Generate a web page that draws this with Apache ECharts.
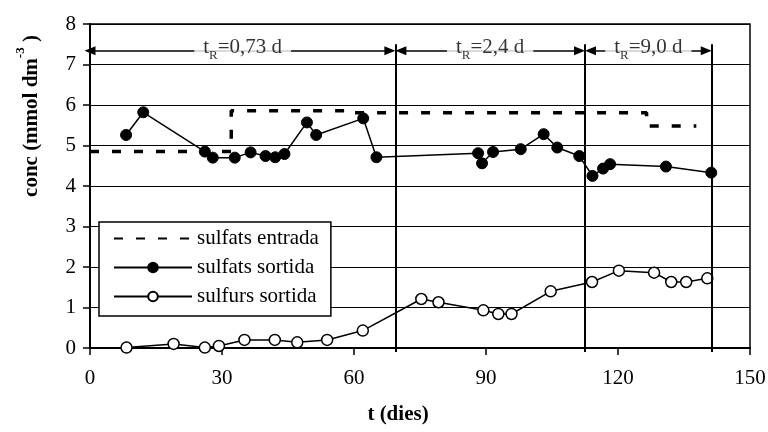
<!DOCTYPE html>
<html>
<head>
<meta charset="utf-8">
<script src="https://cdn.jsdelivr.net/npm/echarts@6.0.0/dist/echarts.min.js"></script>
<style>
  html, body { margin: 0; padding: 0; background: #fff; }
  #chart { width: 768px; height: 432px; }
</style>
</head>
<body>
<div id="chart"></div>
<script>
// Inlet sulphate (step profile of the feed), days / mmol dm-3
const entradaT = [0, 32.1, 32.1, 58.0, 58.0, 126.5, 126.5, 137.8];
const entradaC = [4.85, 4.85, 5.86, 5.86, 5.81, 5.81, 5.48, 5.48];

// Outlet sulphate
const sulfatsT = [8.2, 12.1, 26.1, 27.9, 32.9, 36.5, 39.9, 42.1, 44.2, 49.3, 51.4, 62.1, 65.1,
                  88.2, 89.1, 91.6, 97.9, 103.1, 106.2, 111.2, 114.2, 116.6, 118.2, 130.9, 141.2];
const sulfatsC = [5.26, 5.82, 4.85, 4.70, 4.70, 4.83, 4.74, 4.71, 4.79, 5.57, 5.26, 5.67, 4.71,
                  4.81, 4.56, 4.84, 4.91, 5.28, 4.95, 4.74, 4.25, 4.43, 4.54, 4.48, 4.33];

// Outlet sulphide
const sulfursT = [8.3, 19.0, 26.1, 29.3, 35.1, 42.0, 47.1, 53.9, 62.0, 75.3, 79.2,
                  89.4, 92.8, 95.8, 104.7, 114.1, 120.2, 128.2, 132.1, 135.5, 140.3];
const sulfursC = [0.01, 0.10, 0.01, 0.05, 0.20, 0.20, 0.14, 0.20, 0.43, 1.21, 1.13,
                  0.93, 0.84, 0.84, 1.40, 1.63, 1.91, 1.86, 1.63, 1.63, 1.72];

// Hydraulic residence time periods
const periodBounds = [0, 69.4, 112.5, 141.3];
const periodLabels = ['0,73', '2,4', '9,0'];

const xTicks = { min: 0, max: 150, step: 30 };
const yTicks = { min: 0, max: 8, step: 1 };

const SERIF = 'Liberation Serif';
const ARROW_Y = 7.34;
const BOUND_TOP = 7.5;
const ARROW_HALF = 1.25;   // half of arrowhead length, in days

const pairs = (xs, ys) => xs.map((x, i) => [x, ys[i]]);

const markLines = [];
periodBounds.slice(1).forEach(b => {
  markLines.push([
    { coord: [b, BOUND_TOP], symbol: 'none', lineStyle: { width: 2, color: '#000', type: 'solid' } },
    { coord: [b, 0], symbol: 'none' }
  ]);
});
for (let i = 0; i < periodLabels.length; i++) {
  const a = i === 0 ? periodBounds[0] : periodBounds[i] + ARROW_HALF;
  const b = periodBounds[i + 1] - ARROW_HALF;
  markLines.push([
    { coord: [a, ARROW_Y], symbol: 'triangle', symbolSize: [9, 11] },
    { coord: [b, ARROW_Y], symbol: 'triangle', symbolSize: [9, 11] }
  ]);
}

const periodText = periodLabels.map((t, i) => ({
  value: [(periodBounds[i] + periodBounds[i + 1]) / 2, ARROW_Y],
  name: t
}));

const chart = echarts.init(document.getElementById('chart'), null, { renderer: 'canvas' });

const axisBase = {
  type: 'value',
  axisLine: { show: true, lineStyle: { color: '#000', width: 2 } },
  axisTick: { show: true, inside: false, length: 7, lineStyle: { color: '#000', width: 1.5 } },
  axisLabel: { color: '#000', fontFamily: SERIF, fontSize: 21 }
};

chart.setOption({
  animation: false,
  backgroundColor: '#fff',
  textStyle: { fontFamily: SERIF },
  grid: {
    left: 90, top: 24, width: 660, height: 324,
    show: true, borderColor: '#000', borderWidth: 1.5,
    outerBoundsMode: 'none'
  },
  xAxis: [
    Object.assign({}, axisBase, {
      min: xTicks.min, max: xTicks.max, interval: xTicks.step,
      axisLabel: Object.assign({}, axisBase.axisLabel, { margin: 20 }),
      splitLine: { show: false }
    }),
    {
      // short ticks where the residence time changes
      type: 'value', min: xTicks.min, max: xTicks.max, position: 'bottom',
      axisLine: { show: false },
      axisTick: { show: true, inside: false, length: 4, customValues: periodBounds.slice(1),
                  lineStyle: { color: '#000', width: 2 } },
      axisLabel: { show: false },
      splitLine: { show: false }
    }
  ],
  yAxis: Object.assign({}, axisBase, {
    min: yTicks.min, max: yTicks.max, interval: yTicks.step,
    axisLabel: Object.assign({}, axisBase.axisLabel, { margin: 14 }),
    splitLine: { show: true, lineStyle: { color: '#000', width: 1 } }
  }),
  legend: {
    data: [
      { name: 'sulfats entrada', itemStyle: { opacity: 0 } },
      { name: 'sulfats sortida' },
      { name: 'sulfurs sortida' }
    ],
    orient: 'vertical',
    left: 99, top: 222,
    itemWidth: 78, itemHeight: 12, itemGap: 8,
    padding: [6, 12, 9, 14],
    backgroundColor: '#fff', borderColor: '#000', borderWidth: 1.5, borderRadius: 0,
    textStyle: { color: '#000', fontFamily: SERIF, fontSize: 21 },
    selectedMode: false
  },
  graphic: [
    {
      type: 'text', x: 398, y: 415,
      style: {
        text: 't (dies)', fill: '#000', fontFamily: SERIF, fontSize: 21, fontWeight: 'bold',
        align: 'center', verticalAlign: 'middle'
      }
    },
    {
      type: 'text', x: 28, y: 116, rotation: Math.PI / 2,
      style: {
        text: '{b|conc (mmol dm}{s|-3}{b| )}',
        align: 'center', verticalAlign: 'middle', fill: '#000',
        rich: {
          b: { fontFamily: SERIF, fontSize: 21, fontWeight: 'bold', lineHeight: 28, verticalAlign: 'bottom' },
          s: { fontFamily: SERIF, fontSize: 13, fontWeight: 'bold', lineHeight: 13, verticalAlign: 'top' }
        }
      }
    }
  ],
  series: [
    {
      name: 'sulfats entrada',
      type: 'line',
      data: pairs(entradaT, entradaC),
      symbol: 'none',
      lineStyle: { color: '#000', width: 3.5, type: [9, 13], cap: 'butt' },
      itemStyle: { color: '#000' },
      z: 2,
      markLine: {
        silent: true,
        animation: false,
        label: { show: false },
        lineStyle: { color: '#000', width: 1.5, type: 'solid' },
        itemStyle: { color: '#000' },
        data: markLines
      }
    },
    {
      name: 'sulfats sortida',
      type: 'line',
      data: pairs(sulfatsT, sulfatsC),
      symbol: 'circle', symbolSize: 11,
      lineStyle: { color: '#000', width: 1.5 },
      itemStyle: { color: '#000', borderColor: '#000', borderWidth: 1 },
      z: 4
    },
    {
      name: 'sulfurs sortida',
      type: 'line',
      data: pairs(sulfursT, sulfursC),
      symbol: 'circle', symbolSize: 11,
      lineStyle: { color: '#000', width: 1.5 },
      itemStyle: { color: '#fff', borderColor: '#000', borderWidth: 1.5 },
      z: 4
    },
    {
      name: 'periodes',
      type: 'scatter',
      data: periodText,
      symbolSize: 0.1,
      itemStyle: { color: 'rgba(0,0,0,0)' },
      silent: true,
      z: 10,
      label: {
        show: true,
        position: 'inside',
        offset: [0, -3],
        backgroundColor: '#fff',
        padding: [0, 9],
        fontFamily: SERIF,
        formatter: p => '{m|t}{r|R}{m|=' + p.name + ' d}',
        rich: {
          m: { color: '#000', fontFamily: SERIF, fontSize: 21, lineHeight: 22, verticalAlign: 'top' },
          r: { color: '#000', fontFamily: SERIF, fontSize: 13, lineHeight: 13, padding: [12, 0, 0, 0], verticalAlign: 'top' }
        }
      }
    }
  ]
});
</script>
</body>
</html>
